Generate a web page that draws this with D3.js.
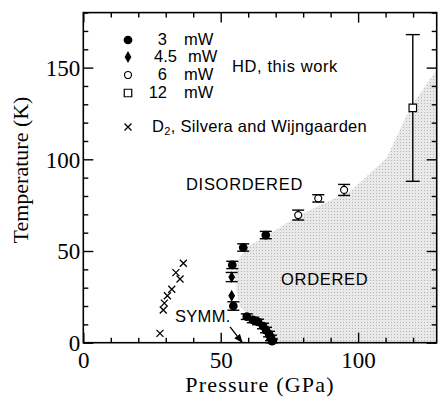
<!DOCTYPE html>
<html>
<head>
<meta charset="utf-8">
<script src="https://cdn.jsdelivr.net/npm/d3@7"></script>
<style>
  body { margin: 0; background: #fff; }
  svg { display: block; }
  .sans { font-family: "Liberation Sans", Arial, Helvetica, sans-serif; }
  .serif { font-family: "Liberation Serif", "Times New Roman", serif; }
</style>
</head>
<body>
<div id="chart"></div>
<script>
// HD phase diagram, pressure (GPa) vs temperature (K)

// 3 mW, filled circles  {p: GPa, t: K, e: error in K}
const hd3mW = [
  {p: 66.4, t: 58.7, e: 2}, {p: 58.2, t: 51.9, e: 2}, {p: 54.2, t: 42.4, e: 2},
  {p: 54.6, t: 20.0, e: 2.3}, {p: 59.5, t: 14.2, e: 1.5}, {p: 61.7, t: 12.4, e: 1.5},
  {p: 63.6, t: 11.3, e: 1.5}, {p: 65.4, t: 9.1, e: 1.5}, {p: 66.5, t: 6.9, e: 1.5},
  {p: 67.6, t: 4.7, e: 1.5}, {p: 68.3, t: 2.6, e: 1.5}, {p: 68.7, t: 0.9, e: 1}
];
// 4.5 mW, filled diamonds
const hd45mW = [{p: 54.0, t: 35.8, e: 2.5}, {p: 54.0, t: 25.6, e: 0}];
// 6 mW, open circles
const hd6mW = [{p: 78.2, t: 69.6, e: 2.7}, {p: 85.5, t: 78.7, e: 2}, {p: 94.9, t: 83.3, e: 3}];
// 12 mW, open square
const hd12mW = [{p: 119.9, t: 128, e: 40}];
// D2, Silvera and Wijngaarden (crosses)
const d2Pressure = [36.4, 33.7, 35.2, 32.2, 30.6, 29.5, 29.1, 27.9];
const d2Temp     = [43.3, 38.2, 34.7, 29.1, 25.6, 21.6, 17.8, 5.1];
// left edge of the ordered (shaded) region
const orderedEdge = [
  [70.5, 0], [68.6, 5.3], [66, 9.6], [60.7, 15.1], [57, 19.5], [55.9, 27],
  [55.2, 35.7], [55.9, 44], [59.6, 52.2], [67.2, 58.7], [78.8, 69.6],
  [97.8, 83.3], [110.5, 101], [118.9, 128], [128.6, 149]
];
const xTicks = d3.range(0, 130, 10);
const yTicks = d3.range(0, 190, 10);
const legendLabels = ["3", "4.5", "6", "12"];

let W = 441, H = 397;
let svg = d3.select("#chart").append("svg").attr("width", W).attr("height", H);
let defs = svg.append("defs");

let x = d3.scaleLinear().domain([0, 128.6]).range([83.3, 436.7]);
let y = d3.scaleLinear().domain([0, 180]).range([342.7, 12.6]);

// stippled fill for the ordered region
let pat = defs.append("pattern").attr("id", "stipple")
    .attr("width", 3).attr("height", 3).attr("patternUnits", "userSpaceOnUse");
pat.append("rect").attr("width", 3).attr("height", 3).attr("fill", "#e9e9e9");
pat.append("rect").attr("x", 1).attr("y", 1).attr("width", 1).attr("height", 1).attr("fill", "#b4b4b4");

let shade = orderedEdge.concat([[128.6, 0]]);
svg.append("path")
    .attr("d", d3.line().x(d => x(d[0])).y(d => y(d[1]))(shade) + "Z")
    .attr("fill", "url(#stipple)");

// axes, ticks inward, long ticks every 50
function tidy(g, major) {
    g.select(".domain").remove();
    g.selectAll(".tick line").attr("stroke", "#000").attr("stroke-width", 1.4);
    g.selectAll(".tick").filter(d => d % 50 == 0).select("line").each(function () {
        let l = d3.select(this);
        if (l.attr("x2") != null && +l.attr("x2") != 0) l.attr("x2", major);
        if (l.attr("y2") != null && +l.attr("y2") != 0) l.attr("y2", major);
    });
}
let gBottom = svg.append("g").attr("transform", "translate(0," + y(0) + ")")
    .call(d3.axisBottom(x).tickValues(xTicks).tickSizeInner(-5).tickSizeOuter(0)
        .tickFormat(d => d % 50 == 0 ? d : ""));
tidy(gBottom, -10);
gBottom.selectAll("text").attr("class", "serif").attr("font-size", 23)
    .attr("font-family", null).attr("y", 25).attr("dy", 0).attr("fill", "#000");

let gTop = svg.append("g").attr("transform", "translate(0," + y(180) + ")")
    .call(d3.axisTop(x).tickValues(xTicks).tickSizeInner(-5).tickSizeOuter(0).tickFormat(""));
tidy(gTop, 10);

let gLeft = svg.append("g").attr("transform", "translate(" + x(0) + ",0)")
    .call(d3.axisLeft(y).tickValues(yTicks).tickSizeInner(-5).tickSizeOuter(0)
        .tickFormat(d => d % 50 == 0 ? d : ""));
tidy(gLeft, 10);
gLeft.selectAll("text").attr("class", "serif").attr("font-size", 23)
    .attr("font-family", null).attr("x", -3).attr("dy", "0.34em").attr("fill", "#000");

let gRight = svg.append("g").attr("transform", "translate(" + x(128.6) + ",0)")
    .call(d3.axisRight(y).tickValues(yTicks).tickSizeInner(-5).tickSizeOuter(0).tickFormat(""));
tidy(gRight, -10);

svg.append("rect")
    .attr("x", x(0)).attr("y", y(180))
    .attr("width", x(128.6) - x(0)).attr("height", y(0) - y(180))
    .attr("fill", "none").attr("stroke", "#000").attr("stroke-width", 1.6);

// axis titles
svg.append("text").attr("class", "serif").attr("fill", "#000")
    .attr("x", 260).attr("y", 392).attr("text-anchor", "middle")
    .attr("font-size", 22).attr("letter-spacing", 1.2).text("Pressure (GPa)");
svg.append("text").attr("class", "serif").attr("fill", "#000")
    .attr("transform", "translate(28,170) rotate(-90)").attr("text-anchor", "middle")
    .attr("font-size", 22).text("Temperature (K)");

// markers
function errorBars(data, cap) {
    let g = svg.append("g").attr("stroke", "#000").attr("stroke-width", 1.4);
    data.filter(d => d.e > 0).forEach(function (d) {
        g.append("line").attr("x1", x(d.p)).attr("x2", x(d.p))
            .attr("y1", y(d.t - d.e)).attr("y2", y(d.t + d.e));
        [d.t - d.e, d.t + d.e].forEach(function (v) {
            g.append("line").attr("x1", x(d.p) - cap).attr("x2", x(d.p) + cap)
                .attr("y1", y(v)).attr("y2", y(v));
        });
    });
}
errorBars(hd3mW, 6);
errorBars(hd45mW, 6);
errorBars(hd6mW, 6);
errorBars(hd12mW, 7);

let sym = {
    circle: d3.symbol().type(d3.symbolCircle).size(60),
    diamond: d3.symbol().type(d3.symbolDiamond).size(40),
    open: d3.symbol().type(d3.symbolCircle).size(38),
    square: d3.symbol().type(d3.symbolSquare).size(56)
};

svg.append("g").selectAll("path").data(hd3mW).enter().append("path")
    .attr("transform", d => "translate(" + x(d.p) + "," + y(d.t) + ")")
    .attr("d", sym.circle).attr("fill", "#000");
svg.append("g").selectAll("path").data(hd45mW).enter().append("path")
    .attr("transform", d => "translate(" + x(d.p) + "," + y(d.t) + ")")
    .attr("d", sym.diamond).attr("fill", "#000");
svg.append("g").selectAll("path").data(hd6mW).enter().append("path")
    .attr("transform", d => "translate(" + x(d.p) + "," + y(d.t) + ")")
    .attr("d", sym.open).attr("fill", "#fff").attr("stroke", "#000").attr("stroke-width", 1.2);
svg.append("g").selectAll("path").data(hd12mW).enter().append("path")
    .attr("transform", d => "translate(" + x(d.p) + "," + y(d.t) + ")")
    .attr("d", sym.square).attr("fill", "#fff").attr("stroke", "#000").attr("stroke-width", 1.2);

function cross(g, cx, cy, s) {
    g.append("path")
        .attr("d", "M" + (cx - s) + "," + (cy - s) + "L" + (cx + s) + "," + (cy + s) +
            "M" + (cx - s) + "," + (cy + s) + "L" + (cx + s) + "," + (cy - s))
        .attr("stroke", "#000").attr("stroke-width", 1.3);
}
let crosses = svg.append("g");
d2Pressure.forEach((p, i) => cross(crosses, x(p), y(d2Temp[i]), 3.5));

// legend
let legendY = [40, 57, 75, 93];
let lg = svg.append("g").attr("class", "sans").attr("font-size", 16.5).attr("fill", "#000");
["circle", "diamond", "open", "square"].forEach(function (k, i) {
    let m = lg.append("path").attr("transform", "translate(128," + legendY[i] + ")").attr("d", sym[k]);
    if (k == "open" || k == "square") m.attr("fill", "#fff").attr("stroke", "#000").attr("stroke-width", 1.2);
    else m.attr("fill", "#000");
    lg.append("text").attr("x", i == 1 ? 177 : 167).attr("y", legendY[i] + 5)
        .attr("text-anchor", "end").text(legendLabels[i]);
    lg.append("text").attr("x", i == 1 ? 188 : 184).attr("y", legendY[i] + 5).text("mW");
});
lg.append("text").attr("x", 232).attr("y", 72).attr("letter-spacing", 0.6).text("HD, this work");
cross(lg, 128, 127, 3.5);
let d2t = lg.append("text").attr("x", 152).attr("y", 132).attr("letter-spacing", 0.3);
d2t.append("tspan").text("D");
d2t.append("tspan").attr("font-size", 11).attr("dy", 3).text("2");
d2t.append("tspan").attr("dy", -3).text(", Silvera and Wijngaarden");

// region labels
let lab = svg.append("g").attr("class", "sans").attr("font-size", 16.5)
    .attr("letter-spacing", 0.7).attr("fill", "#000");
lab.append("text").attr("x", 186).attr("y", 190).text("DISORDERED");
lab.append("text").attr("x", 281).attr("y", 285).text("ORDERED");
lab.append("text").attr("x", 175).attr("y", 322).attr("letter-spacing", 0.3).text("SYMM.");

// arrow to the symmetry point
defs.append("marker").attr("id", "head")
    .attr("viewBox", "0 0 10 10").attr("refX", 9).attr("refY", 5)
    .attr("markerWidth", 7).attr("markerHeight", 7).attr("orient", "auto")
    .append("path").attr("d", "M0,1L10,5L0,9Z").attr("fill", "#000");
svg.append("line")
    .attr("x1", x(53.4)).attr("y1", y(8.6)).attr("x2", x(57.8)).attr("y2", y(0.2))
    .attr("stroke", "#000").attr("stroke-width", 1.3).attr("marker-end", "url(#head)");
</script>
</body>
</html>
